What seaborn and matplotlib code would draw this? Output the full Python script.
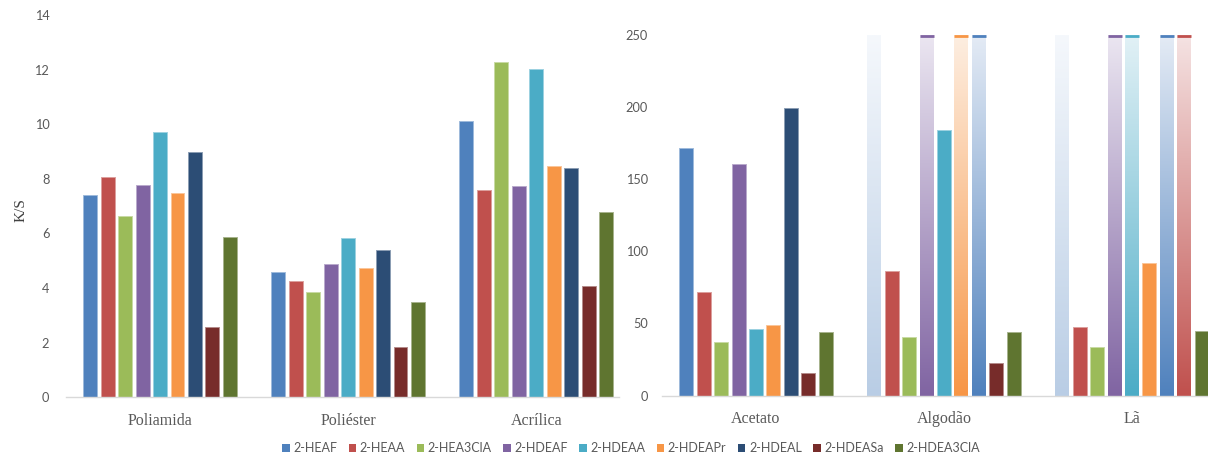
import numpy as np
import pandas as pd
import matplotlib
matplotlib.use("Agg")
import matplotlib.pyplot as plt
import matplotlib.colors as mcolors
from matplotlib.patches import Patch
import seaborn as sns

# ---- data -------------------------------------------------------------
series = ["2-HEAF", "2-HEAA", "2-HEA3ClA", "2-HDEAF", "2-HDEAA",
          "2-HDEAPr", "2-HDEAL", "2-HDEASa", "2-HDEA3ClA"]

# synthetic fibres (K/S)
fibres_left = ["Poliamida", "Poliéster", "Acrílica"]
heaf_left = [7.41, 4.60, 10.11]
heaa_left = [8.07, 4.26, 7.59]
hea3cla_left = [6.64, 3.87, 12.27]
hdeaf_left = [7.79, 4.88, 7.73]
hdeaa_left = [9.73, 5.82, 12.03]
hdeapr_left = [7.47, 4.74, 8.46]
hdeal_left = [8.97, 5.41, 8.40]
hdeasa_left = [2.59, 1.83, 4.08]
hdea3cla_left = [5.87, 3.49, 6.79]

# natural / cellulosic fibres (K/S); readings beyond the 250 axis limit
# are kept at OVER and drawn as faded, clipped columns
OVER = 300.0
fibres_right = ["Acetato", "Algodão", "Lã"]
heaf_right = [171.3, OVER, OVER]
heaa_right = [72.0, 86.6, 47.8]
hea3cla_right = [37.0, 40.4, 33.5]
hdeaf_right = [160.7, OVER, OVER]
hdeaa_right = [46.0, 183.8, OVER]
hdeapr_right = [48.7, OVER, 91.9]
hdeal_right = [199.0, OVER, OVER]
hdeasa_right = [15.5, 22.6, OVER]
hdea3cla_right = [44.1, 44.1, 45.0]

left_vals = [heaf_left, heaa_left, hea3cla_left, hdeaf_left, hdeaa_left,
             hdeapr_left, hdeal_left, hdeasa_left, hdea3cla_left]
right_vals = [heaf_right, heaa_right, hea3cla_right, hdeaf_right, hdeaa_right,
              hdeapr_right, hdeal_right, hdeasa_right, hdea3cla_right]


def long_frame(fibres, values):
    rows = []
    for name, vals in zip(series, values):
        for fib, v in zip(fibres, vals):
            rows.append({"fibra": fib, "corante": name, "ks": v})
    return pd.DataFrame(rows)


df_left = long_frame(fibres_left, left_vals)
df_right = long_frame(fibres_right, right_vals)

# ---- style ------------------------------------------------------------
colors = ["#4F81BD", "#C0504D", "#9BBB59", "#8064A2", "#4BACC6",
          "#F79646", "#2C4D75", "#772C2A", "#5F7530"]
palette = dict(zip(series, colors))

# faded fill (bottom colour, top colour, cap colour) for clipped columns
fade = {
    "2-HEAF": ("#b9cde5", "#f5f8fc", None),
    "2-HDEAF": ("#8064A2", "#ebe6f1", "#8064A2"),
    "2-HDEAA": ("#4BACC6", "#e2f1f6", "#4BACC6"),
    "2-HDEAPr": ("#F79646", "#fdeee1", "#F79646"),
    "2-HDEAL": ("#4F81BD", "#e4ebf5", "#4F81BD"),
    "2-HDEASa": ("#C0504D", "#f5e3e3", "#C0504D"),
}

sns.set_theme(style="white")
plt.rcParams["font.family"] = ["Lato", "DejaVu Sans"]

tick_gray = "#595959"
W, H = 1208, 459
fig = plt.figure(figsize=(W / 100, H / 100), dpi=100)

ax_l = fig.add_axes([66 / W, 1 - 397.3 / H, (619 - 66) / W, (397.3 - 15) / H])
ax_r = fig.add_axes([662 / W, 1 - 395.7 / H, (W - 662) / W, (395.7 - 34.7) / H])

for ax, df in ((ax_l, df_left), (ax_r, df_right)):
    sns.barplot(data=df, x="fibra", y="ks", hue="corante", hue_order=series,
                palette=palette, saturation=1, width=0.835, gap=0.2,
                errorbar=None, legend=False, ax=ax)
    for patch in ax.patches:
        fc = np.array(mcolors.to_rgb(patch.get_facecolor()))
        patch.set_edgecolor(fc * 0.55 + 0.45)
        patch.set_linewidth(0.7)

ax_l.set_xlim(-0.5, 2.44)
ax_l.set_ylim(0, 14)
ax_l.set_yticks(range(0, 15, 2))

ax_r.set_xlim(-0.5, (W - 662) / 188 - 0.5)
ax_r.set_ylim(0, 250)
ax_r.set_yticks(range(0, 251, 50))

# faded columns for readings above the axis limit
top = 250
for name, cont in zip(series, ax_r.containers):
    for patch in cont.patches:
        if patch.get_height() <= top:
            continue
        bottom_c, top_c, cap_c = fade[name]
        b = np.array(mcolors.to_rgb(bottom_c))
        t = np.array(mcolors.to_rgb(top_c))
        frac = np.linspace(0, 1, 256)[:, None]
        grad = (b * (1 - frac) + t * frac)[:, None, :]
        x0 = patch.get_x()
        x1 = x0 + patch.get_width()
        patch.set_facecolor((1, 1, 1, 0))
        patch.set_edgecolor((1, 1, 1, 0))
        ax_r.imshow(grad, extent=[x0, x1, 0, top], origin="lower",
                    aspect="auto", interpolation="bilinear",
                    zorder=patch.get_zorder())
        if cap_c is not None:
            ax_r.plot([x0, x1], [top - 0.9, top - 0.9], color=cap_c, lw=2,
                      solid_capstyle="butt", zorder=patch.get_zorder() + 0.1)

ax_r.set_xlim(-0.5, (W - 662) / 188 - 0.5)
ax_r.set_ylim(0, 250)

for ax in (ax_l, ax_r):
    for side in ("top", "right", "left"):
        ax.spines[side].set_visible(False)
    ax.spines["bottom"].set_color("#d9d9d9")
    ax.spines["bottom"].set_linewidth(1.0)
    ax.set_xlabel("")
    ax.set_ylabel("")
    ax.grid(False)
    ax.tick_params(axis="x", length=0, pad=11, labelsize=11.5,
                   labelcolor=tick_gray)
    for lab in ax.get_xticklabels():
        lab.set_fontfamily("Liberation Serif")
    ax.tick_params(axis="y", length=0, labelsize=9.2, labelcolor=tick_gray)

ax_l.tick_params(axis="y", pad=12)
ax_r.tick_params(axis="y", pad=10)

ax_l.set_ylabel("K/S", fontfamily="Liberation Serif", fontsize=11,
                color="#404040")
ax_l.yaxis.set_label_coords((28 - 66) / 553, 0.49)

handles = [Patch(facecolor=palette[s], edgecolor="none") for s in series]
fig.legend(handles, series, loc="center", bbox_to_anchor=(631 / W, 1 - 448 / H),
           ncol=9, frameon=False, fontsize=9, labelcolor=tick_gray,
           handlelength=0.6, handleheight=0.6, handletextpad=0.3,
           columnspacing=0.9)

fig.savefig("out.png", dpi=100, facecolor="white")
